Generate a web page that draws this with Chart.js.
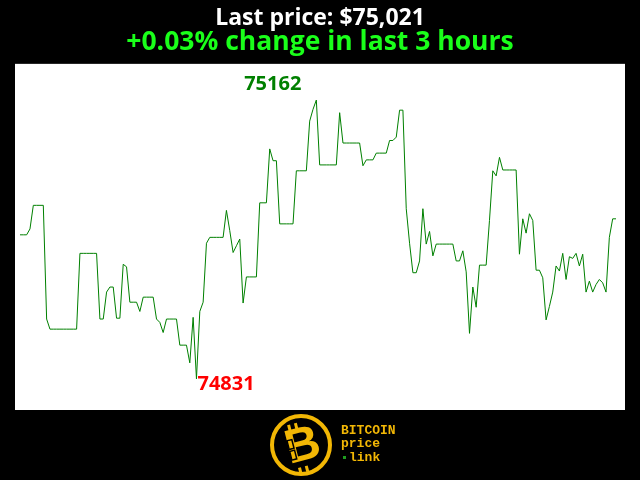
<!DOCTYPE html>
<html>
<head>
<meta charset="utf-8">
<script src="https://cdn.jsdelivr.net/npm/chart.js@4"></script>
<style>
  html, body { margin: 0; padding: 0; background: #000; }
  #wrap { width: 640px; height: 480px; }
</style>
</head>
<body>
<div id="wrap"><canvas id="chart"></canvas></div>
<script>
// one price per minute over the last 3 hours
const prices = [
    75002, 75002, 75002, 75009, 75037, 75037, 75037, 75037, 74902, 74890,
    74890, 74890, 74890, 74890, 74890, 74890, 74890, 74890, 74980, 74980,
    74980, 74980, 74980, 74980, 74902, 74902, 74934, 74940, 74940, 74903,
    74903, 74967, 74964, 74922, 74922, 74922, 74911, 74928, 74928, 74928,
    74928, 74902, 74898, 74886, 74902, 74902, 74902, 74902, 74871, 74871,
    74871, 74850, 74904, 74831, 74911, 74922, 74992, 74999, 74999, 74999,
    74999, 74999, 75031, 75007, 74981, 74989, 74997, 74921, 74952, 74952,
    74952, 74952, 75040, 75040, 75040, 75104, 75090, 75090, 75015, 75015,
    75015, 75015, 75015, 75078, 75078, 75078, 75078, 75137, 75151, 75162,
    75085, 75085, 75085, 75085, 75085, 75085, 75147, 75111, 75111, 75111,
    75111, 75111, 75111, 75084, 75091, 75091, 75091, 75099, 75099, 75099,
    75099, 75114, 75114, 75118, 75150, 75150, 75033, 74992, 74957, 74957,
    74971, 75033, 74991, 75006, 74977, 74991, 74991, 74991, 74991, 74991,
    74991, 74971, 74971, 74983, 74958, 74885, 74940, 74916, 74966, 74966,
    74966, 75019, 75078, 75072, 75094, 75079, 75079, 75079, 75079, 75079,
    74979, 75021, 75004, 75027, 75019, 74960, 74960, 74951, 74901, 74917,
    74934, 74965, 74959, 74980, 74949, 74976, 74974, 74980, 74965, 74979,
    74934, 74947, 74934, 74943, 74949, 74945, 74934, 74999, 75021, 75021
];
const minutes = prices.map((p, i) => i);

const lastPrice = prices[prices.length - 1];
const change = (lastPrice - prices[0]) / prices[0] * 100;
const maxPrice = Math.max(...prices);
const minPrice = Math.min(...prices);

const titleText = 'Last price: $' + lastPrice.toLocaleString('en-US');
const subText = (change >= 0 ? '+' : '') + change.toFixed(2) + '% change in last 3 hours';

// black page, white plot box
const background = {
    id: 'background',
    beforeDraw(c) {
        const ctx = c.ctx, a = c.chartArea;
        ctx.save();
        ctx.fillStyle = '#000';
        ctx.fillRect(0, 0, c.width, c.height);
        ctx.fillStyle = '#fff';
        ctx.fillRect(a.left, a.top, a.right - a.left, a.bottom - a.top);
        ctx.restore();
    }
};

// max / min labels next to the extreme points
const extremes = {
    id: 'extremes',
    afterDatasetsDraw(c) {
        const ctx = c.ctx, x = c.scales.x, y = c.scales.y;
        const iMax = prices.indexOf(maxPrice), iMin = prices.indexOf(minPrice);
        ctx.save();
        ctx.font = 'bold 20px "Open Sans"';
        ctx.textBaseline = 'alphabetic';
        ctx.fillStyle = '#008000';
        ctx.textAlign = 'right';
        ctx.fillText(String(maxPrice), x.getPixelForValue(iMax) - 15, y.getPixelForValue(maxPrice) - 10);
        ctx.fillStyle = '#ff0000';
        ctx.textAlign = 'left';
        ctx.fillText(String(minPrice), x.getPixelForValue(iMin) + 1, y.getPixelForValue(minPrice) + 11);
        ctx.restore();
    }
};

// bitcoin price link badge under the plot
const logo = {
    id: 'logo',
    afterDraw(c) {
        const ctx = c.ctx;
        const cx = 301, cy = 445;
        const gold = '#f2b705';
        ctx.save();
        ctx.strokeStyle = gold;
        ctx.lineWidth = 4;
        ctx.beginPath();
        ctx.arc(cx, cy, 29, 0, Math.PI * 2);
        ctx.stroke();

        ctx.translate(cx + 2, cy + 2);
        ctx.rotate(-0.25);
        ctx.fillStyle = gold;
        ctx.font = 'bold 48px "Liberation Sans"';
        ctx.textAlign = 'center';
        ctx.textBaseline = 'middle';
        ctx.fillText('B', 0, 0);
        ctx.fillRect(-10, -25, 3, 6);
        ctx.fillRect(-3, -25, 3, 6);
        ctx.fillRect(-10, 19, 3, 6);
        ctx.fillRect(-3, 19, 3, 6);
        // chain link on the stem
        ctx.strokeStyle = '#000';
        ctx.lineWidth = 1.5;
        ctx.strokeRect(-14, -10, 5, 9);
        ctx.strokeRect(-14, 1, 5, 9);
        ctx.restore();

        ctx.save();
        ctx.fillStyle = gold;
        ctx.font = 'bold 13px "Liberation Mono"';
        ctx.textAlign = 'left';
        ctx.textBaseline = 'alphabetic';
        ctx.fillText('BITCOIN', 341, 434);
        ctx.fillText('price', 341, 447);
        ctx.fillText('link', 349, 461);
        ctx.fillStyle = '#1f9d1f';
        ctx.fillRect(343, 456, 3, 3);
        ctx.restore();
    }
};

new Chart(document.getElementById('chart'), {
    type: 'line',
    data: {
        labels: minutes,
        datasets: [{
            data: prices,
            borderColor: '#008000',
            borderWidth: 1,
            pointRadius: 0,
            tension: 0,
            fill: false
        }]
    },
    options: {
        responsive: true,
        maintainAspectRatio: false,
        animation: false,
        events: [],
        layout: { padding: { left: 15, right: 15, top: 0, bottom: 70 } },
        scales: {
            x: { type: 'linear', display: false, min: -1.5, max: 181.7 },
            y: { display: false, min: 74794, max: 75205 }
        },
        plugins: {
            legend: { display: false },
            tooltip: { enabled: false },
            title: {
                display: true,
                text: titleText,
                color: '#ffffff',
                font: { family: '"Open Sans"', size: 23, weight: 'bold', lineHeight: 1 },
                padding: { top: 7, bottom: 0 }
            },
            subtitle: {
                display: true,
                text: subText,
                color: '#1aff1a',
                font: { family: '"Open Sans"', size: 26.5, weight: 'bold', lineHeight: 0.9 },
                padding: { top: 1, bottom: 9 }
            }
        }
    },
    plugins: [background, extremes, logo]
});
</script>
</body>
</html>
